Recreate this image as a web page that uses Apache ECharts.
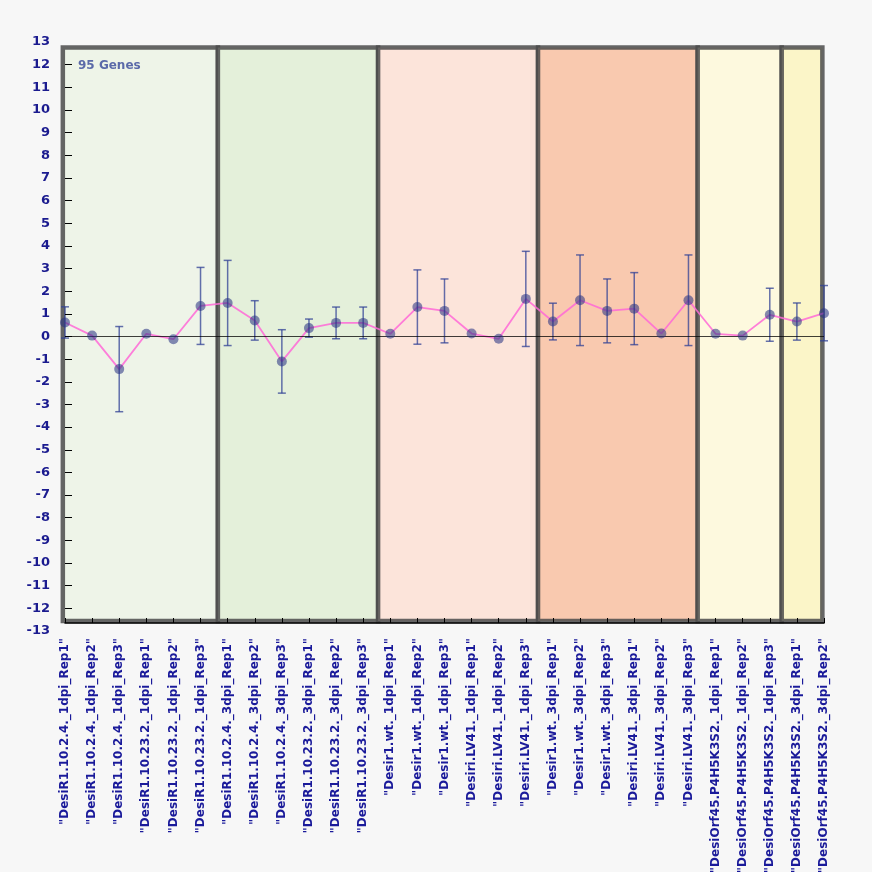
<!DOCTYPE html>
<html>
<head>
<meta charset="utf-8">
<script src="https://cdn.jsdelivr.net/npm/echarts@6/dist/echarts.min.js"></script>
<style>
html,body{margin:0;padding:0;background:#f7f7f7;}
#chart{width:872px;height:872px;}
</style>
</head>
<body>
<div id="chart"></div>
<script>
const categories = [
  '"DesiR1.10.2.4._1dpi_Rep1"', '"DesiR1.10.2.4._1dpi_Rep2"', '"DesiR1.10.2.4._1dpi_Rep3"',
  '"DesiR1.10.23.2._1dpi_Rep1"', '"DesiR1.10.23.2._1dpi_Rep2"', '"DesiR1.10.23.2._1dpi_Rep3"',
  '"DesiR1.10.2.4._3dpi_Rep1"', '"DesiR1.10.2.4._3dpi_Rep2"', '"DesiR1.10.2.4._3dpi_Rep3"',
  '"DesiR1.10.23.2._3dpi_Rep1"', '"DesiR1.10.23.2._3dpi_Rep2"', '"DesiR1.10.23.2._3dpi_Rep3"',
  '"Desir1.wt._1dpi_Rep1"', '"Desir1.wt._1dpi_Rep2"', '"Desir1.wt._1dpi_Rep3"',
  '"Desiri.LV41._1dpi_Rep1"', '"Desiri.LV41._1dpi_Rep2"', '"Desiri.LV41._1dpi_Rep3"',
  '"Desir1.wt._3dpi_Rep1"', '"Desir1.wt._3dpi_Rep2"', '"Desir1.wt._3dpi_Rep3"',
  '"Desiri.LV41._3dpi_Rep1"', '"Desiri.LV41._3dpi_Rep2"', '"Desiri.LV41._3dpi_Rep3"',
  '"DesiOrf45.P4H5K3S2._1dpi_Rep1"', '"DesiOrf45.P4H5K3S2._1dpi_Rep2"', '"DesiOrf45.P4H5K3S2._1dpi_Rep3"',
  '"DesiOrf45.P4H5K3S2._3dpi_Rep1"', '"DesiOrf45.P4H5K3S2._3dpi_Rep2"'
];
const means = [0.62, 0.04, -1.44, 0.12, -0.12, 1.35,
               1.48, 0.71, -1.10, 0.37, 0.60, 0.60,
               0.12, 1.30, 1.13, 0.13, -0.10, 1.66,
               0.66, 1.60, 1.13, 1.23, 0.13, 1.60,
               0.12, 0.04, 0.96,
               0.66, 1.03];
const errs = [0.69, 0, 1.88, 0, 0, 1.70,
              1.88, 0.87, 1.40, 0.40, 0.70, 0.70,
              0, 1.64, 1.41, 0, 0, 2.10,
              0.81, 2.00, 1.41, 1.59, 0, 2.00,
              0, 0, 1.17,
              0.82, 1.22];
// group spans in category-index units
const groupStart = [-0.08, 5.64, 11.55, 17.45, 23.34, 26.44];
const groupEnd   = [5.64, 11.55, 17.45, 23.34, 26.44, 27.94];
const boxTop = 12.76, boxBottom = -12.56;
const yTickValues = [-12,-11,-10,-9,-8,-7,-6,-5,-4,-3,-2,-1,0,1,2,3,4,5,6,7,8,9,10,11,12];

const groupColors = ['#eef4e8', '#e4f0da', '#fce4da', '#f9c9af', '#fdf9de', '#fbf5c8'];
const pointColor = 'rgba(40,50,130,0.7)';

const chart = echarts.init(document.getElementById('chart'), null, {renderer:'canvas'});
const option = {
  backgroundColor: '#f7f7f7',
  animation: false,
  title: {
    text: '95 Genes', left: 73, top: 55,
    textStyle: {color: '#5b6aa9', fontSize: 12, fontWeight: 'bold', fontFamily: 'DejaVu Sans'}
  },
  grid: {left: 65, right: 48, top: 42, bottom: 241, containLabel: false, outerBoundsMode: 'none'},
  xAxis: [{
    type: 'category', data: categories, boundaryGap: false, offset: -8, z: 10,
    axisLine: {onZero: false, lineStyle: {color: '#000', width: 1.5}},
    axisTick: {inside: true, length: 5, interval: 0, lineStyle: {color: '#000'}},
    axisLabel: {rotate: 90, interval: 0, margin: 15, color: '#1a1a9a', fontSize: 12,
                fontWeight: 'bold', fontFamily: 'DejaVu Sans'},
    splitLine: {show: false}
  }, {
    type: 'value', min: 0, max: 28, show: false
  }],
  yAxis: {
    type: 'value', min: -13, max: 13, interval: 1, z: 10,
    axisLine: {show: false},
    axisTick: {show: true, inside: true, length: 7, customValues: yTickValues, lineStyle: {color: '#000'}},
    axisLabel: {margin: 15, color: '#1b1b8f', fontSize: 13, fontWeight: 'bold', fontFamily: 'DejaVu Sans'},
    splitLine: {show: false}
  },
  series: [
    {
      type: 'custom', xAxisIndex: 1, z: 1, silent: true,
      data: groupStart.map((s, i) => [s, groupEnd[i]]),
      encode: {x: [0, 1]},
      renderItem: function (params, api) {
        const p0 = api.coord([api.value(0), boxTop]);
        const p1 = api.coord([api.value(1), boxBottom]);
        return {
          type: 'rect',
          shape: {x: p0[0], y: p0[1], width: p1[0] - p0[0], height: p1[1] - p0[1]},
          style: {fill: groupColors[params.dataIndex], stroke: 'rgba(75,75,75,0.85)', lineWidth: 4.5}
        };
      }
    },
    {
      type: 'line', data: means, showSymbol: false, z: 3, silent: true,
      lineStyle: {color: 'rgba(255,105,215,0.85)', width: 1.8},
      markLine: {
        silent: true, symbol: 'none', label: {show: false},
        lineStyle: {color: 'rgba(0,0,0,0.75)', width: 1, type: 'solid'},
        data: [{yAxis: 0}]
      }
    },
    {
      type: 'custom', z: 4, silent: true,
      data: means.map((m, i) => [i, m - errs[i], m + errs[i], errs[i]]),
      encode: {x: 0, y: [1, 2]},
      renderItem: function (params, api) {
        if (api.value(3) <= 0) return null;
        const lo = api.coord([api.value(0), api.value(1)]);
        const hi = api.coord([api.value(0), api.value(2)]);
        const w = 4;
        const st = {stroke: 'rgba(50,65,150,0.75)', lineWidth: 1.5};
        return {
          type: 'group',
          children: [
            {type: 'line', shape: {x1: hi[0], y1: hi[1], x2: lo[0], y2: lo[1]}, style: st},
            {type: 'line', shape: {x1: hi[0] - w, y1: hi[1], x2: hi[0] + w, y2: hi[1]}, style: st},
            {type: 'line', shape: {x1: lo[0] - w, y1: lo[1], x2: lo[0] + w, y2: lo[1]}, style: st}
          ]
        };
      }
    },
    {
      type: 'scatter', data: means, z: 5, silent: true,
      symbol: 'circle', symbolSize: 10,
      itemStyle: {color: pointColor}
    }
  ]
};
chart.setOption(option);
</script>
</body>
</html>
